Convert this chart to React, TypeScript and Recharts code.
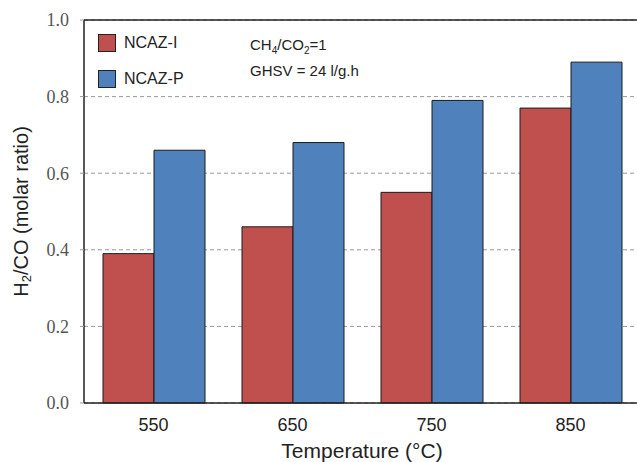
import { BarChart, Bar, XAxis, YAxis, CartesianGrid, ReferenceLine, Label } from 'recharts'

const temperatures = ['550', '650', '750', '850']
const ncazI = [0.39, 0.46, 0.55, 0.77]
const ncazP = [0.66, 0.68, 0.79, 0.89]
const yTicks = [0, 0.2, 0.4, 0.6, 0.8, 1.0]

const RED = '#c0504d'
const BLUE = '#4f81bd'
const SANS = '"Liberation Sans", Arial, sans-serif'
const SERIF = '"Liberation Serif", "Times New Roman", serif'

const data = temperatures.map((t, i) => ({ t, ncazI: ncazI[i], ncazP: ncazP[i] }))

const series = [
  { key: 'ncazI', name: 'NCAZ-I', color: RED },
  { key: 'ncazP', name: 'NCAZ-P', color: BLUE },
]

function LegendBox() {
  return (
    <div style={{ position: 'absolute', left: 98, top: 25, fontFamily: SANS, fontSize: 16, color: '#222' }}>
      {series.map((s) => (
        <div key={s.key} style={{ display: 'flex', alignItems: 'center', height: 36 }}>
          <span
            style={{
              display: 'inline-block',
              width: 16,
              height: 16,
              background: s.color,
              border: '1px solid #222',
              marginRight: 8,
            }}
          />
          {s.name}
        </div>
      ))}
    </div>
  )
}

function YLabel(props: any) {
  const vb = props.viewBox || {}
  const cy = vb.y + vb.height / 2
  const cx = 21
  return (
    <text
      x={cx}
      y={cy}
      transform={`rotate(-90, ${cx}, ${cy})`}
      textAnchor="middle"
      dominantBaseline="central"
      fontFamily={SANS}
      fontSize={20}
      fill="#222"
    >
      H<tspan fontSize={13} dy={5}>2</tspan>
      <tspan dy={-5}>/CO (molar ratio)</tspan>
    </text>
  )
}

export default function App() {
  return (
    <div style={{ position: 'absolute', left: 0, top: 0, width: 637, height: 462, overflow: 'hidden', background: '#fff' }}>
      <BarChart
        width={650}
        height={462}
        data={data}
        margin={{ top: 20, right: 10, left: 0, bottom: 0 }}
        barGap={0}
        barSize={51}
      >
        <CartesianGrid vertical={false} stroke="#999" strokeDasharray="4 3" />
        <XAxis
          dataKey="t"
          height={59}
          tickLine={false}
          axisLine={{ stroke: '#222', strokeWidth: 1.5 }}
          tick={{ fontSize: 18, fill: '#222', fontFamily: SANS }}
          tickMargin={9}
        >
          <Label
            value="Temperature (°C)"
            position="bottom"
            offset={-19}
            style={{ fontSize: 21, fill: '#222', fontFamily: SANS }}
          />
        </XAxis>
        <YAxis
          domain={[0, 1]}
          ticks={yTicks}
          width={84}
          tickFormatter={(v: number) => v.toFixed(1)}
          axisLine={{ stroke: '#222', strokeWidth: 1.5 }}
          tickLine={{ stroke: '#999' }}
          tickSize={4}
          tickMargin={11}
          tick={{ fontSize: 18, fill: '#555', fontFamily: SERIF }}
        >
          <Label content={<YLabel />} />
        </YAxis>
        <ReferenceLine y={1} stroke="#222" strokeWidth={1.5} />
        {series.map((s) => (
          <Bar
            key={s.key}
            dataKey={s.key}
            name={s.name}
            fill={s.color}
            stroke="#1a1a1a"
            strokeWidth={1}
            isAnimationActive={false}
          />
        ))}
      </BarChart>
      <LegendBox />
      <div style={{ position: 'absolute', left: 250, top: 35, fontFamily: SANS, fontSize: 15, color: '#222', lineHeight: '20px' }}>
        <div>
          CH<sub style={{ fontSize: 10 }}>4</sub>/CO<sub style={{ fontSize: 10 }}>2</sub>=1
        </div>
        <div>GHSV = 24 l/g.h</div>
      </div>
    </div>
  )
}
